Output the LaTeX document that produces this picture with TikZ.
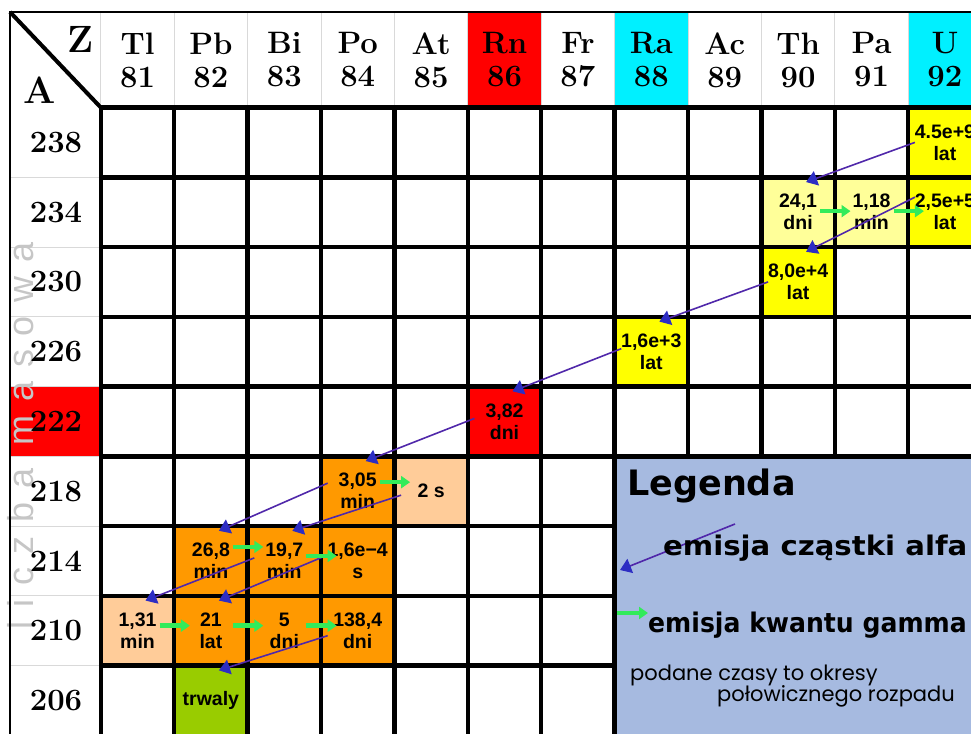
\documentclass[tikz,border=0pt]{standalone}
\usepackage{fontspec}
\usepackage{tikz}
\usetikzlibrary{arrows.meta}
\newfontfamily\cellfont{Liberation Sans}
\newfontfamily\legfont{DejaVu Sans}
\newfontfamily\notefont{Poppins}
\newfontfamily\axisfont[LetterSpace=38]{Liberation Sans}
\definecolor{rnred}{RGB}{255,0,0}
\definecolor{racyan}{RGB}{0,240,255}
\definecolor{uyellow}{RGB}{255,255,0}
\definecolor{lightyellow}{RGB}{255,255,153}
\definecolor{decayorange}{RGB}{255,153,0}
\definecolor{peach}{RGB}{255,204,153}
\definecolor{stablegreen}{RGB}{153,204,0}
\definecolor{legendblue}{RGB}{166,186,224}
\definecolor{alphaviolet}{RGB}{80,40,170}
\definecolor{alphablue}{RGB}{45,45,195}
\definecolor{gammagreen}{RGB}{50,235,90}

\begin{document}
\begin{tikzpicture}[x=1pt, y=-1pt,
    cell/.style={minimum width=73.4pt, minimum height=69.75pt, inner sep=0pt, align=center,
        font=\cellfont\bfseries\fontsize{19.5}{22}\selectfont},
    head/.style={inner sep=0pt, align=center, font=\bfseries\fontsize{31}{33}\selectfont},
    gridline/.style={line width=4.5pt, line cap=rect},
    thinline/.style={gray!30, line width=1pt},
    alphaarrow/.style={alphaviolet, line width=1.6pt,
        -{Triangle[width=15pt, length=11pt, color=alphablue, fill=alphablue]}},
    gammaarrow/.style={gammagreen, line width=4.5pt, -{Triangle[width=12pt, length=9pt]}},
    legtext/.style={anchor=base west, inner sep=0pt}]
    \useasboundingbox (0,0) rectangle (971,733);
    \clip (0,0) rectangle (971,733);

    % Header and axis backgrounds
    \fill[rnred] (467.8,12) rectangle (541.2,107.5);
    \fill[racyan] (614.6,12) rectangle (688,107.5);
    \fill[racyan] (908.2,12) rectangle (981.6,107.5);
    \fill[rnred] (10,386.5) rectangle (100.8,456.25);
    \foreach \i in {0,...,12}
        \draw[thinline] ({100.8+73.4*\i},12) -- ({100.8+73.4*\i},107.5);
    \foreach \j in {1,...,9}
        \draw[thinline] (10,{107.5+69.75*\j}) -- (100.8,{107.5+69.75*\j});

    % Axis title
    \node[rotate=90, text=gray!45, font=\axisfont\fontsize{36}{36}\selectfont] (masslabel) at (21,436) {liczba masowa};

    % Isotope cells
    \foreach \name/\col/\row/\shade/\txt in {
        U238/11/0/uyellow/{4.5e+9\\lat},
        Th234/9/1/lightyellow/{24,1\\dni},
        Pa234/10/1/lightyellow/{1,18\\min},
        U234/11/1/uyellow/{2,5e+5\\lat},
        Th230/9/2/uyellow/{8,0e+4\\lat},
        Ra226/7/3/uyellow/{1,6e+3\\lat},
        Rn222/5/4/rnred/{3,82\\dni},
        Po218/3/5/decayorange/{3,05\\min},
        At218/4/5/peach/{2 s},
        Pb214/1/6/decayorange/{26,8\\min},
        Bi214/2/6/decayorange/{19,7\\min},
        Po214/3/6/decayorange/{1,6e−4\\s},
        Tl210/0/7/peach/{1,31\\min},
        Pb210/1/7/decayorange/{21\\lat},
        Bi210/2/7/decayorange/{5\\dni},
        Po210/3/7/decayorange/{138,4\\dni},
        Pb206/1/8/stablegreen/{trwaly}}
        \node[cell, fill=\shade] (\name) at ({137.5+73.4*\col},{142.4+69.75*\row}) {\txt};

    % Legend box
    \fill[legendblue] (614.6,456.25) rectangle (980,740);

    % Grid
    \foreach \i in {0,...,7}
        \draw[gridline] ({100.8+73.4*\i},107.5) -- ({100.8+73.4*\i},740);
    \foreach \i in {8,...,12}
        \draw[gridline] ({100.8+73.4*\i},107.5) -- ({100.8+73.4*\i},456.25);
    \foreach \j in {0,...,5}
        \draw[gridline] (100.8,{107.5+69.75*\j}) -- (985,{107.5+69.75*\j});
    \foreach \j in {6,7,8}
        \draw[gridline] (100.8,{107.5+69.75*\j}) -- (614.6,{107.5+69.75*\j});

    % Frame and corner
    \draw[line width=1.5pt] (10,740) -- (10,12) -- (985,12);
    \draw[line width=4pt] (10,12) -- (100.8,107.5);
    \node[font=\bfseries\fontsize{38}{38}\selectfont] (zcorner) at (81,39) {Z};
    \node[font=\bfseries\fontsize{38}{38}\selectfont] (acorner) at (40,90) {A};

    % Element symbols and mass numbers
    \foreach \el/\z [count=\i from 0] in {Tl/81, Pb/82, Bi/83, Po/84, At/85, Rn/86,
        Fr/87, Ra/88, Ac/89, Th/90, Pa/91, U/92}
        \node[head] (z\z) at ({137.5+73.4*\i},60) {\el\\\z};
    \foreach \a [count=\j from 0] in {238,234,230,226,222,218,214,210,206}
        \node[head] (a\a) at (56,{142.4+69.75*\j}) {\a};

    % Alpha decays
    \foreach \from/\to/\dy in {U238/Th234/0, U234/Th230/15, Th230/Ra226/0, Ra226/Rn222/3,
        Rn222/Po218/3, Po218/Pb214/8, At218/Bi214/-4, Bi214/Tl210/3, Po214/Pb210/6,
        Po210/Pb206/-5}
        \draw[alphaarrow] ([xshift=-30pt, yshift=\dy pt]\from.center) -- ([xshift=8pt, yshift=-5pt]\to.north);

    % Gamma emissions
    \foreach \from/\to/\dy in {Th234/Pa234/1, Pa234/U234/1, Po218/At218/9, Pb214/Bi214/14,
        Bi214/Po214/5, Tl210/Pb210/5, Pb210/Bi210/5, Bi210/Po210/5}
        \draw[gammaarrow] ([xshift=22pt, yshift=\dy pt]\from.center) -- ([xshift=-21pt, yshift=\dy pt]\to.center);

    % Legend
    \node[legtext, font=\legfont\bfseries\fontsize{35}{35}\selectfont] (legtitle) at (627,495) {Legenda};
    \coordinate (alphastart) at (735,524);
    \coordinate (alphaend) at (620,570);
    \draw[alphaarrow] (alphastart) -- (alphaend);
    \node[legtext, font=\legfont\bfseries\fontsize{27}{27}\selectfont] (alphatext) at (663,555)
        {\scalebox{1.08}[1]{emisja cząstki alfa}};
    \coordinate (gammastart) at (617,613);
    \coordinate (gammaend) at (648,613);
    \draw[gammaarrow] (gammastart) -- (gammaend);
    \node[legtext, font=\legfont\bfseries\fontsize{27}{27}\selectfont] (gammatext) at (648,632)
        {\scalebox{0.93}[1]{emisja kwantu gamma}};
    \node[legtext, font=\notefont\fontsize{21}{21}\selectfont] (noteone) at (630,680) {podane czasy to okresy};
    \node[legtext, font=\notefont\fontsize{21}{21}\selectfont] (notetwo) at (717,701) {połowicznego rozpadu};
\end{tikzpicture}
\end{document}
